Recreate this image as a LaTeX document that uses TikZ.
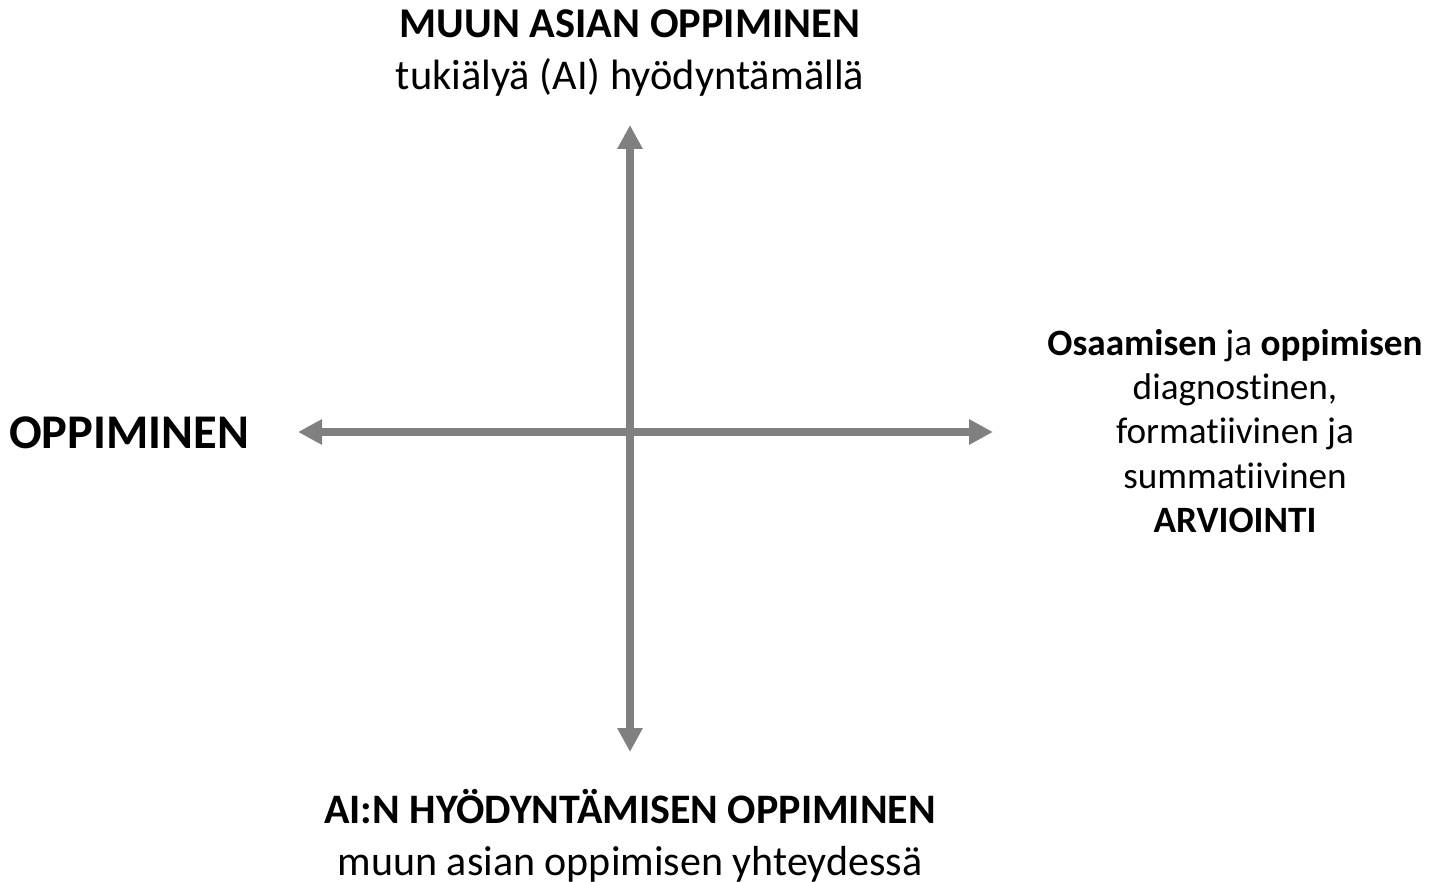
\documentclass[tikz,border=0pt]{standalone}
\usepackage{fontspec}
\setmainfont[Ligatures=NoCommon]{Carlito}
\usetikzlibrary{arrows.meta}
\definecolor{axisgray}{RGB}{128,128,128}
\begin{document}
\begin{tikzpicture}
            [x=0.5pt,y=-0.5pt,
             axis/.style ={draw=axisgray,line width=4pt,{Triangle[width=12pt,length=12pt]}-{Triangle[width=12pt,length=12pt]}},
             label/.style ={align=center,inner sep=0pt}]
            \useasboundingbox (0,0) rectangle (1435,882);
            \coordinate (top) at (630,125);
            \coordinate (bottom) at (630,752);
            \coordinate (left) at (298,432);
            \coordinate (right) at (993,432);
            \node[label,font=\fontsize{21.2}{26}\selectfont] (ai) at (630,53){\textbf{MUUN ASIAN OPPIMINEN}\\tukiälyä (AI) hyödyntämällä};
            \node[label,font=\fontsize{21}{26}\selectfont] (other) at (630,836){\textbf{AI:N HYÖDYNTÄMISEN OPPIMINEN}\\muun asian oppimisen yhteydessä};
            \node[label,font=\fontsize{24.2}{29}\selectfont\bfseries] (learn) at (129,433){OPPIMINEN};
            \node[label,font=\fontsize{18.6}{22.2}\selectfont] (assess) at (1235,431){\textbf{Osaamisen} ja \textbf{oppimisen}\\diagnostinen,\\formatiivinen ja\\summatiivinen\\\textbf{ARVIOINTI}};
            \draw[axis] (bottom) to (top);
            \draw[axis] (left) to (right);
        \end{tikzpicture}
\end{document}
